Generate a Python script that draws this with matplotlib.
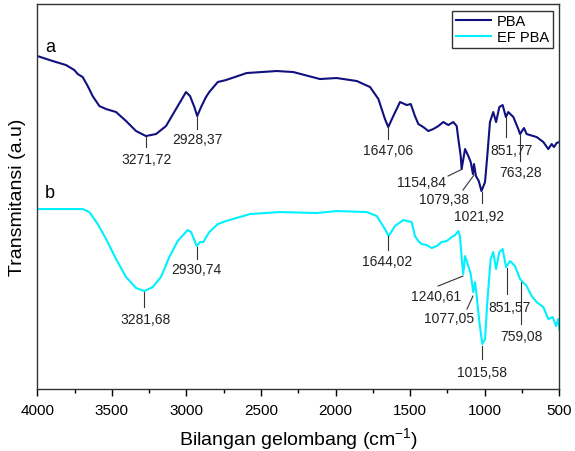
import matplotlib.pyplot as plt
from matplotlib.ticker import MultipleLocator

plt.rcParams['font.family'] = ['Liberation Sans', 'DejaVu Sans']
plt.rcParams['mathtext.default'] = 'regular'

# PBA spectrum (wavenumber, transmittance a.u.)
wn_pba = [4000, 3897, 3808, 3752, 3729, 3696, 3662, 3629, 3584, 3539, 3472,
          3405, 3338, 3272, 3204, 3137, 3070, 3003, 2976, 2947, 2928, 2902,
          2869, 2847, 2790, 2735, 2596, 2395, 2284, 2105, 1993, 1858, 1769,
          1713, 1669, 1647, 1613, 1568, 1523, 1496, 1468, 1445,
          1412, 1378, 1345, 1311, 1278, 1244, 1211, 1188, 1177, 1161, 1155,
          1132, 1110, 1094, 1079, 1072, 1059, 1040, 1022, 998, 983, 965, 943,
          924, 902, 880, 858, 842, 808, 775, 763, 737, 719, 697, 652, 607,
          574, 551, 536, 518, 500]
t_pba = [333, 328, 324, 319, 315, 312, 303, 293, 283, 280, 277,
         268, 258, 253, 255, 263, 280, 297, 293, 282, 273, 282,
         292, 297, 307, 309, 316, 318, 317, 310, 311, 308, 302,
         290, 270, 262, 273, 287, 284, 285, 273, 265,
         262, 258, 260, 263, 267, 264, 267, 263, 250, 233, 220,
         240, 233, 227, 215, 225, 213, 208, 198, 207, 233, 267, 277,
         267, 282, 284, 272, 277, 272, 260, 255, 261, 255, 254, 252, 247,
         240, 245, 242, 246, 247]

# EF PBA spectrum
wn_ef = [4000, 3696, 3651, 3595, 3539, 3472, 3405, 3338, 3282, 3226, 3171,
         3115, 3059, 2992, 2969, 2931, 2909, 2887, 2847, 2790, 2735, 2574,
         2373, 2127, 1993, 1791, 1724, 1669, 1644, 1602, 1546, 1490, 1468,
         1445, 1423, 1389, 1356, 1322, 1289, 1255, 1221,
         1199, 1177, 1166, 1154, 1144, 1132, 1110, 1094, 1077, 1065, 1054,
         1036, 1016, 998, 983, 960, 943, 924, 902, 880, 857, 830, 797, 763,
         745, 719, 685, 652, 607, 574, 544, 522, 507, 500]
t_ef = [180, 180, 177, 165, 150, 130, 112, 101, 98, 102, 112,
        132, 148, 159, 157, 143, 147, 147, 157, 165, 168, 175,
        177, 176, 178, 177, 173, 160, 153, 163, 169, 167, 153,
        148, 145, 144, 141, 143, 147, 148, 152,
        154, 158, 153, 130, 115, 133, 123, 115, 97, 107, 93,
        67, 45, 50, 87, 130, 137, 120, 137, 140, 122, 128, 123, 110,
        107, 103, 93, 87, 82, 70, 72, 63, 70, 60]

# peak labels: text, tick line (x0, y0, x1, y1), text position (x, y)
pba_labels = ['3271,72', '2928,37', '1647,06', '1154,84', '1079,38',
              '1021,92', '851,77', '763,28']
pba_lines = [(3272, 252, 3272, 242), (2928, 273, 2928, 260),
             (1649, 262, 1649, 250), (1246, 213, 1150, 220),
             (1146, 199, 1072, 214), (1016, 197, 1016, 186),
             (858, 272, 858, 252), (763, 255, 763, 228)]
pba_text = [(3268, 230), (2928, 250), (1649, 239), (1421, 207),
            (1273, 190), (1038, 173), (817, 239), (763, 217)]

ef_labels = ['3281,68', '2930,74', '1644,02', '1240,61', '1077,05',
             '1015,58', '851,57', '759,08']
ef_lines = [(3284, 97, 3284, 82), (2931, 142, 2931, 130),
            (1649, 153, 1649, 139), (1313, 103, 1146, 113),
            (1119, 80, 1079, 93), (1016, 43, 1016, 30),
            (851, 121, 851, 95), (755, 107, 755, 65)]
ef_text = [(3277, 70), (2931, 120), (1656, 128), (1327, 93),
           (1240, 71), (1016, 17), (831, 82), (755, 53)]

fig = plt.figure(figsize=(5.75, 4.52), dpi=100)
ax = fig.add_axes([0.0649, 0.137, 0.9078, 0.8519])

ax.plot(wn_pba, t_pba, color='#10107e', lw=1.5, label='PBA',
        solid_joinstyle='round')
ax.plot(wn_ef, t_ef, color='#00f0ff', lw=1.5, label='EF PBA',
        solid_joinstyle='round')

for lab, ln, tx in zip(pba_labels + ef_labels, pba_lines + ef_lines,
                       pba_text + ef_text):
    ax.plot([ln[0], ln[2]], [ln[1], ln[3]], color='#333333', lw=0.8)
    ax.text(tx[0], tx[1], lab, ha='center', va='center', fontsize=10,
            color='#222222')

ax.text(3915, 343, 'a', fontsize=13, ha='center', va='center')
ax.text(3915, 197, 'b', fontsize=13, ha='center', va='center')

ax.set_xlim(4000, 500)
ax.set_ylim(0, 385)
ax.set_yticks([])
ax.xaxis.set_major_locator(MultipleLocator(500))
ax.xaxis.set_minor_locator(MultipleLocator(250))
ax.tick_params(axis='x', which='major', direction='out', length=5,
               width=1, labelsize=11, pad=5)
ax.tick_params(axis='x', which='minor', direction='out', length=3, width=1)
for s in ax.spines.values():
    s.set_linewidth(1.0)
    s.set_color('#333333')

ax.set_xlabel(r'Bilangan gelombang (cm$^{-1}$)', fontsize=14, labelpad=6)
ax.set_ylabel('Transmitansi (a.u)', fontsize=14, labelpad=8)

leg = ax.legend(loc='upper right', fontsize=10.5, frameon=True, fancybox=False,
                handlelength=2.4, borderpad=0.25, labelspacing=0.15,
                handletextpad=0.4, borderaxespad=0.45)
leg.get_frame().set_edgecolor('black')
leg.get_frame().set_linewidth(1.0)

fig.savefig('out.png', dpi=100)
